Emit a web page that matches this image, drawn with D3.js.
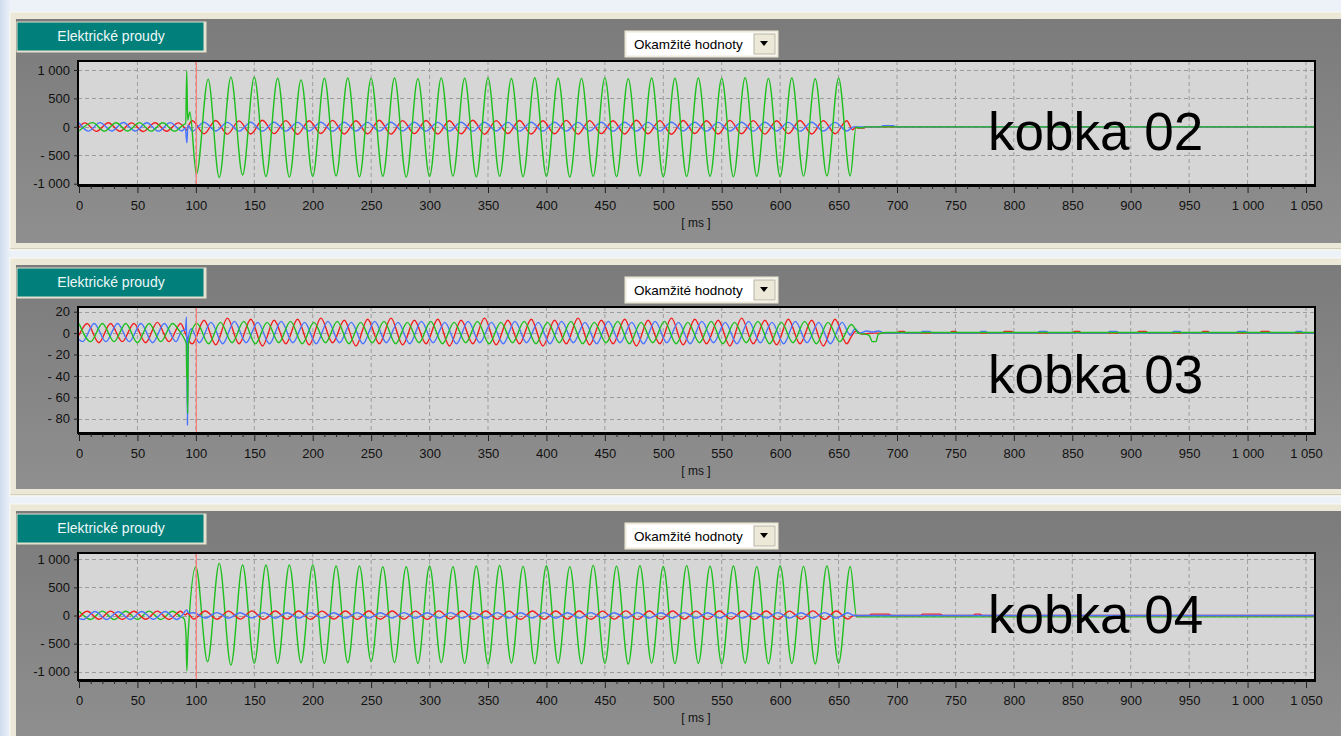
<!DOCTYPE html>
<html>
<head>
<meta charset="utf-8">
<script src="https://cdn.jsdelivr.net/npm/d3@7"></script>
<style>
html, body { margin: 0; padding: 0; background: #e4ebf5; overflow: hidden }
svg { display: block }
</style>
</head>
<body>
<svg id="chart" width="1341" height="736"></svg>
<script>
// ---- texts / ticks ----
const tabTitle   = "Elektrické proudy"
const modeLabel  = "Okamžité hodnoty"
const xUnit      = "[ ms ]"
const panelNames = ["kobka 02", "kobka 03", "kobka 04"]
const cursorTime = 100

const xTicks      = [0,50,100,150,200,250,300,350,400,450,500,550,600,650,700,750,800,850,900,950,1000,1050]
const xTickLabels = ["0","50","100","150","200","250","300","350","400","450","500","550","600","650","700","750","800","850","900","950","1 000","1 050"]
const yTicksKA      = [1000, 500, 0, -500, -1000]
const yTickLabelsKA = ["1 000", "500", "0", "- 500", "-1 000"]
const yTicksKB      = [20, 0, -20, -40, -60, -80]
const yTickLabelsKB = ["20", "0", "- 20", "- 40", "- 60", "- 80"]

// ---- kobka 02 : [ms, A] ----
const k02Red = [[0,-5],[5,70],[15,-80],[25,72],[35,-78],[45,70],[55,-82],[65,72],[75,-78],[85,70],[91,-30],[92.3,-60],[93.5,10],
 [97,108],[107,-122],[117,112],[127,-128],[137,105],[147,-125],[157,115],[167,-120],[177,110],[187,-130],[197,108],[207,-118],[217,114],[227,-126],[237,106],[247,-122],[257,116],[267,-128],[277,110],[287,-120],[297,112],[307,-125],[317,108],[327,-122],[337,115],[347,-130],[357,110],[367,-118],[377,112],[387,-126],[397,106],[407,-122],[417,114],[427,-128],[437,110],[447,-120],[457,108],[467,-125],[477,115],[487,-122],[497,110],[507,-130],[517,112],[527,-118],[537,108],[547,-126],[557,114],[567,-122],[577,110],[587,-128],[597,106],[607,-120],[617,112],[627,-125],[637,110],[647,-122],[657,108],
 [662,-50],[665,0],[666,-20],[672,-20],[673,0],[1060,0]]
const k02Blue = [[0,72],[8,-75],[18,74],[28,-72],[38,76],[48,-74],[58,72],[68,-76],[78,74],[88,-72],[91,-20],[92.3,-280],[93.2,30],
 [97,-75],[107,82],[117,-72],[127,78],[137,-76],[147,80],[157,-74],[167,82],[177,-75],[187,78],[197,-72],[207,80],[217,-76],[227,82],[237,-74],[247,78],[257,-75],[267,80],[277,-72],[287,82],[297,-76],[307,78],[317,-74],[327,80],[337,-75],[347,82],[357,-72],[367,78],[377,-76],[387,80],[397,-74],[407,82],[417,-75],[427,78],[437,-72],[447,80],[457,-76],[467,82],[477,-74],[487,78],[497,-75],[507,80],[517,-72],[527,82],[537,-76],[547,78],[557,-74],[567,80],[577,-75],[587,82],[597,-72],[607,78],[617,-76],[627,80],[637,-74],[647,78],[657,-72],
 [663,0],[686,0],[688,22],[697,22],[699,0],[1060,0]]
const k02Green = [[0,-74],[11.7,74],[21.7,-76],[31.7,72],[41.7,-74],[51.7,75],[61.7,-76],[71.7,73],[81.7,-75],[89,30],[91.3,60],[92.2,985],[93,120],[94.8,260],
 [100.5,-832],[110.5,840],[120,-890],[130,874],[140,-845],[150,874],[160,-874],[170,856],[180,-885],[190,826],[200,-870],[210,856],[220,-862],[230,860],[240,-880],[250,852],[260,-868],[270,858],[280,-884],[290,848],[300,-872],[310,862],[320,-866],[330,855],[340,-880],[350,860],[360,-870],[370,850],[380,-876],[390,864],[400,-868],[410,856],[420,-882],[430,852],[440,-870],[450,862],[460,-874],[470,848],[480,-866],[490,858],[500,-880],[510,854],[520,-872],[530,860],[540,-868],[550,850],[560,-878],[570,864],[580,-870],[590,852],[600,-876],[610,858],[620,-866],[630,845],[640,-862],[650,856],[660,-862],
 [665,0],[666,-15],[671,-15],[672,0],[1060,0]]

// ---- kobka 03 ----
const k03Red = [[0,-2],[7,9],[17,-9],[27,9],[37,-8],[47,9],[57,-9],[67,10],[77,-8],[87,9],[91,0],[92.5,-4],
 [97,-10],[107,12],[117,-11],[127,14],[137,-10],[147,13],[157,-12],[167,12],[177,-10],[187,13],[197,-11],[207,14],[217,-9],[227,12],[237,-12],[247,13],[257,-10],[267,14],[277,-11],[287,12],[297,-10],[307,13],[317,-12],[327,12],[337,-10],[347,14],[357,-11],[367,12],[377,-10],[387,13],[397,-12],[407,12],[417,-10],[427,14],[437,-11],[447,12],[457,-10],[467,13],[477,-12],[487,12],[497,-10],[507,14],[517,-11],[527,13],[537,-10],[547,12],[557,-12],[567,14],[577,-10],[587,12],[597,-11],[607,13],[617,-10],[627,12],[637,-12],[647,13],[657,-10],
 [661,-3],[665,2],[670,-1],[678,0],[700,0],[702,1.5],[706,1.5],[708,0],[745,0],[747,1.5],[750,1.5],[752,0],[790,0],[792,1.5],[798,1.5],[800,0],[850,0],[852,1.5],[856,1.5],[858,0],[905,0],[907,1.5],[913,1.5],[915,0],[960,0],[962,1.5],[966,1.5],[968,0],[1010,0],[1012,1.5],[1018,1.5],[1020,0],[1060,0]]
const k03Blue = [[0,-6],[3,-8],[13,9],[23,-8],[33,9],[43,-8],[53,9],[63,-9],[73,9],[83,-8],[88,2],[91,3],[92,15],[92.8,-86],[93.4,-5],[96,4],
 [103,-9],[113,10],[123,-10],[133,11],[143,-9],[153,10],[163,-10],[173,11],[183,-9],[193,10],[203,-10],[213,11],[223,-9],[233,10],[243,-10],[253,11],[263,-9],[273,10],[283,-10],[293,11],[303,-9],[313,10],[323,-10],[333,11],[343,-9],[353,10],[363,-10],[373,11],[383,-9],[393,10],[403,-10],[413,11],[423,-9],[433,10],[443,-10],[453,11],[463,-9],[473,10],[483,-10],[493,11],[503,-9],[513,10],[523,-10],[533,11],[543,-9],[553,10],[563,-10],[573,11],[583,-9],[593,10],[603,-10],[613,11],[623,-9],[633,10],[643,-10],[653,10],
 [660,-2],[664,4],[668,0],[674,2],[679,1],[684,2],[690,0],[720,0],[722,1.5],[728,1.5],[730,0],[770,0],[772,1.5],[776,1.5],[778,0],[820,0],[822,1.5],[828,1.5],[830,0],[880,0],[882,1.5],[888,1.5],[890,0],[935,0],[937,1.5],[942,1.5],[944,0],[990,0],[992,1.5],[998,1.5],[1000,0],[1040,0],[1042,1.5],[1046,1.5],[1048,0],[1060,0]]
const k03Green = [[0,9],[10,-8],[20,9],[30,-8],[40,9],[50,-9],[60,9],[70,-8],[80,9],[86,2],[90,-5],[91.8,-10],[92.2,-40],[92.6,-42],[93,-75],[93.6,-10],
 [101,9],[111,-10],[121,10],[131,-9],[141,11],[151,-10],[161,10],[171,-9],[181,11],[191,-10],[201,10],[211,-9],[221,11],[231,-10],[241,10],[251,-9],[261,11],[271,-10],[281,10],[291,-9],[301,11],[311,-10],[321,10],[331,-9],[341,11],[351,-10],[361,10],[371,-9],[381,11],[391,-10],[401,10],[411,-9],[421,11],[431,-10],[441,10],[451,-9],[461,11],[471,-10],[481,10],[491,-9],[501,11],[511,-10],[521,10],[531,-9],[541,11],[551,-10],[561,10],[571,-9],[581,11],[591,-10],[601,10],[611,-9],[621,11],[631,-10],[641,10],[651,-8],[661,8],
 [667,0],[672,-1],[676,-2],[679,-8],[682,-8],[684,-1],[690,0.5],[1060,0.5]]

// ---- kobka 04 ----
const k04Red = [[0,-30],[7,76],[17,-68],[27,78],[37,-70],[47,75],[57,-68],[67,77],[77,-70],[87,75],[91,10],[93,40],
 [98,-65],[108,80],[118,-66],[128,78],[138,-64],[148,82],[158,-68],[168,79],[178,-65],[188,80],[198,-67],[208,78],[218,-64],[228,81],[238,-68],[248,79],[258,-66],[268,80],[278,-65],[288,78],[298,-68],[308,82],[318,-64],[328,79],[338,-67],[348,80],[358,-65],[368,78],[378,-68],[388,81],[398,-66],[408,79],[418,-64],[428,80],[438,-67],[448,78],[458,-65],[468,82],[478,-68],[488,79],[498,-66],[508,80],[518,-64],[528,78],[538,-67],[548,81],[558,-65],[568,79],[578,-68],[588,80],[598,-66],[608,78],[618,-64],[628,82],[638,-67],[648,79],[658,-65],
 [663,0],[676,0],[678,25],[693,25],[695,0],[720,0],[722,25],[737,25],[739,0],[765,0],[767,25],[771,25],[773,0],[1060,0]]
const k04Blue = [[0,-50],[3.7,-70],[13.7,70],[23.7,-72],[33.7,68],[43.7,-70],[53.7,72],[63.7,-68],[73.7,70],[83.7,-72],[89,20],[92,100],[94,40],
 [98,50],[108,-45],[118,52],[128,-46],[138,50],[148,-44],[158,52],[168,-46],[178,50],[188,-45],[198,52],[208,-44],[218,50],[228,-46],[238,52],[248,-45],[258,50],[268,-44],[278,52],[288,-46],[298,50],[308,-45],[318,52],[328,-44],[338,50],[348,-46],[358,52],[368,-45],[378,50],[388,-44],[398,52],[408,-46],[418,50],[428,-45],[438,52],[448,-44],[458,50],[468,-46],[478,52],[488,-45],[498,50],[508,-44],[518,52],[528,-46],[538,50],[548,-45],[558,52],[568,-44],[578,50],[588,-46],[598,52],[608,-45],[618,50],[628,-44],[638,52],[648,-46],[658,50],
 [663,0],[1060,0]]
const k04Green = [[0,76],[10,-70],[20,78],[30,-72],[40,75],[50,-70],[60,78],[70,-72],[80,76],[87,-20],[90,-60],[91.5,-320],[92.3,-985],[93.2,-420],
 [100,868],[110,-822],[120,928],[130,-881],[140,898],[150,-851],[160,898],[170,-851],[180,898],[190,-840],[200,898],[210,-851],[220,880],[230,-840],[240,880],[250,-822],[260,868],[270,-840],[280,868],[290,-851],[300,880],[310,-840],[320,868],[330,-851],[340,880],[350,-862],[360,890],[370,-845],[380,875],[390,-858],[400,885],[410,-848],[420,870],[430,-860],[440,892],[450,-850],[460,878],[470,-862],[480,884],[490,-846],[500,872],[510,-856],[520,888],[530,-850],[540,876],[550,-860],[560,882],[570,-848],[580,870],[590,-858],[600,886],[610,-852],[620,874],[630,-860],[640,880],[650,-850],[660,872],
 [665.5,-25],[1060,-25]]

const RED = "#f21d1d", GREEN = "#1fbf1f", BLUE = "#4a74ff"

// ---- layout ----
const panels = [
    { tabTop: 21,  plotTop: 61,  plotBottom: 185, grayBottom: 243, yPix: [183.7, 70],  yDomain: [-1000, 1000], ticks: yTicksKA, labels: yTickLabelsKA, nameY: 150,
      series: [[k02Red, RED], [k02Blue, BLUE], [k02Green, GREEN]] },
    { tabTop: 267, plotTop: 307, plotBottom: 433, grayBottom: 489, yPix: [418.7, 311.7], yDomain: [-80, 20], ticks: yTicksKB, labels: yTickLabelsKB, nameY: 393,
      series: [[k03Red, RED], [k03Blue, BLUE], [k03Green, GREEN]] },
    { tabTop: 513, plotTop: 553, plotBottom: 680, grayBottom: 740, yPix: [671.7, 559.3], yDomain: [-1000, 1000], ticks: yTicksKA, labels: yTickLabelsKA, nameY: 633,
      series: [[k04Green, GREEN], [k04Red, RED], [k04Blue, BLUE]] },
]

const W = 1341, H = 736
const plotLeft = 78, plotRight = 1315
const x = d3.scaleLinear().domain([0, 1050]).range([79, 1306])
const FONT = "Liberation Sans, Arial, sans-serif"

const svg = d3.select("#chart")
const defs = svg.append("defs")

const bgGrad = defs.append("linearGradient").attr("id", "bgGrad").attr("x1", 0).attr("x2", 1).attr("y1", 0).attr("y2", 0)
bgGrad.append("stop").attr("offset", "0").attr("stop-color", "#cfdcee")
bgGrad.append("stop").attr("offset", "1").attr("stop-color", "#eef2f9")

const grayGrad = defs.append("linearGradient").attr("id", "grayGrad").attr("x1", 0).attr("x2", 0).attr("y1", 0).attr("y2", 1)
grayGrad.append("stop").attr("offset", "0").attr("stop-color", "#7b7b7b")
grayGrad.append("stop").attr("offset", "1").attr("stop-color", "#8f8f8f")

svg.append("rect").attr("width", W).attr("height", H).attr("fill", "#edf1f8")
svg.append("rect").attr("width", 11).attr("height", H).attr("fill", "url(#bgGrad)")

panels.forEach((p, i) => {
    const g = svg.append("g")
    const y = d3.scaleLinear().domain(p.yDomain).range(p.yPix)

    // beige window frame
    g.append("rect").attr("x", 10).attr("y", p.tabTop - 9).attr("width", W).attr("height", p.grayBottom - p.tabTop + 16)
        .attr("fill", "#ebe8d8").attr("stroke", "#fbfaf4").attr("stroke-width", 1)
    g.append("line").attr("x1", 10).attr("x2", W).attr("y1", p.grayBottom + 5.5).attr("y2", p.grayBottom + 5.5)
        .attr("stroke", "#d2cfbd")
    // gray panel
    g.append("rect").attr("x", 16).attr("y", p.tabTop - 2).attr("width", W).attr("height", p.grayBottom - p.tabTop + 2)
        .attr("fill", "url(#grayGrad)")

    // tab
    g.append("rect").attr("x", 16.5).attr("y", p.tabTop + 0.5).attr("width", 190).attr("height", 31)
        .attr("fill", "#e4e1cf")
    g.append("rect").attr("x", 17.5).attr("y", p.tabTop + 1.5).attr("width", 186).attr("height", 28)
        .attr("fill", "#007f7b")
    g.append("text").attr("x", 111).attr("y", p.tabTop + 20)
        .attr("text-anchor", "middle").attr("font-family", FONT)
        .attr("font-size", 14).attr("fill", "#eef8f7").text(tabTitle)

    // dropdown
    const dy = p.plotTop - 29
    g.append("rect").attr("x", 625.5).attr("y", dy - 0.5).attr("width", 152).attr("height", 25)
        .attr("fill", "#fff").attr("stroke", "#ece9d8").attr("stroke-width", 2)
    g.append("rect").attr("x", 754).attr("y", dy + 2).attr("width", 21).attr("height", 20)
        .attr("fill", "#ece9d8").attr("stroke", "#b8b4a2").attr("stroke-width", 1)
    g.append("path").attr("d", `M760,${dy + 9}L768,${dy + 9}L764,${dy + 14}Z`).attr("fill", "#000")
    g.append("text").attr("x", 634).attr("y", dy + 17)
        .attr("font-family", FONT).attr("font-size", 13.5)
        .attr("fill", "#000").text(modeLabel)

    // plot area
    const pw = plotRight - plotLeft, ph = p.plotBottom - p.plotTop
    g.append("rect").attr("x", plotLeft).attr("y", p.plotTop).attr("width", pw).attr("height", ph).attr("fill", "#d6d6d6")

    // grid
    g.append("g").selectAll("line").data(xTicks.slice(1)).join("line")
        .attr("x1", d => x(d)).attr("x2", d => x(d)).attr("y1", p.plotTop).attr("y2", p.plotBottom)
        .attr("stroke", "#9c9c9c").attr("stroke-dasharray", "4 3")
    g.append("g").selectAll("line").data(p.ticks).join("line")
        .attr("x1", plotLeft).attr("x2", plotRight).attr("y1", d => Math.round(y(d)) + 0.5).attr("y2", d => Math.round(y(d)) + 0.5)
        .attr("stroke", "#9c9c9c").attr("stroke-dasharray", "4 3")

    // signals
    const clipId = "clip" + i
    defs.append("clipPath").attr("id", clipId).append("rect")
        .attr("x", plotLeft).attr("y", p.plotTop).attr("width", pw).attr("height", ph)
    const line = d3.line().x(d => x(d[0])).y(d => y(d[1])).curve(d3.curveMonotoneX)
    const sg = g.append("g").attr("clip-path", `url(#${clipId})`)
    p.series.forEach(([data, color]) => {
        sg.append("path").datum(data).attr("d", line)
            .attr("fill", "none").attr("stroke", color).attr("stroke-width", 1.4).attr("stroke-linejoin", "round")
    })

    // cursor
    g.append("line").attr("x1", x(cursorTime) + 0.5).attr("x2", x(cursorTime) + 0.5)
        .attr("y1", p.plotTop).attr("y2", p.plotBottom).attr("stroke", "#ff7a7a").attr("stroke-width", 1.2)

    // frame
    g.append("rect").attr("x", plotLeft).attr("y", p.plotTop).attr("width", pw).attr("height", ph)
        .attr("fill", "none").attr("stroke", "#000").attr("stroke-width", 2)
    g.append("line").attr("x1", plotLeft).attr("x2", plotRight + 1).attr("y1", p.plotBottom + 1.5).attr("y2", p.plotBottom + 1.5)
        .attr("stroke", "#000").attr("stroke-width", 1)

    // x axis
    const xAxis = d3.axisBottom(x).tickValues(xTicks).tickSize(7).tickPadding(8)
        .tickFormat((d, k) => xTickLabels[k])
    const xa = g.append("g").attr("transform", `translate(0,${p.plotBottom + 1})`).call(xAxis)
    const xMinor = d3.axisBottom(x).tickValues(d3.range(0, 1051, 10).filter(v => v % 50)).tickSize(3).tickFormat("")
    const xm = g.append("g").attr("transform", `translate(0,${p.plotBottom + 1})`).call(xMinor)
    ;[xa, xm].forEach(a => {
        a.select(".domain").remove()
        a.selectAll("line").attr("stroke", "#222")
    })
    xa.selectAll("text").attr("font-family", FONT).attr("font-size", 13).attr("fill", "#111")
    g.append("text").attr("x", 696).attr("y", p.plotBottom + 42).attr("text-anchor", "middle")
        .attr("font-family", FONT).attr("font-size", 12).attr("fill", "#111").text(xUnit)

    // y axis
    const yAxis = d3.axisLeft(y).tickValues(p.ticks).tickSize(4).tickPadding(4)
        .tickFormat((d, k) => p.labels[k])
    const ya = g.append("g").attr("transform", `translate(${plotLeft},0)`).call(yAxis)
    ya.select(".domain").remove()
    ya.selectAll("line").attr("stroke", "#222")
    ya.selectAll("text").attr("font-family", FONT).attr("font-size", 13).attr("fill", "#111")

    // big caption
    g.append("text").attr("x", 988).attr("y", p.nameY)
        .attr("font-family", FONT).attr("font-size", 53)
        .attr("fill", "#000").text(panelNames[i])
})
</script>
</body>
</html>
